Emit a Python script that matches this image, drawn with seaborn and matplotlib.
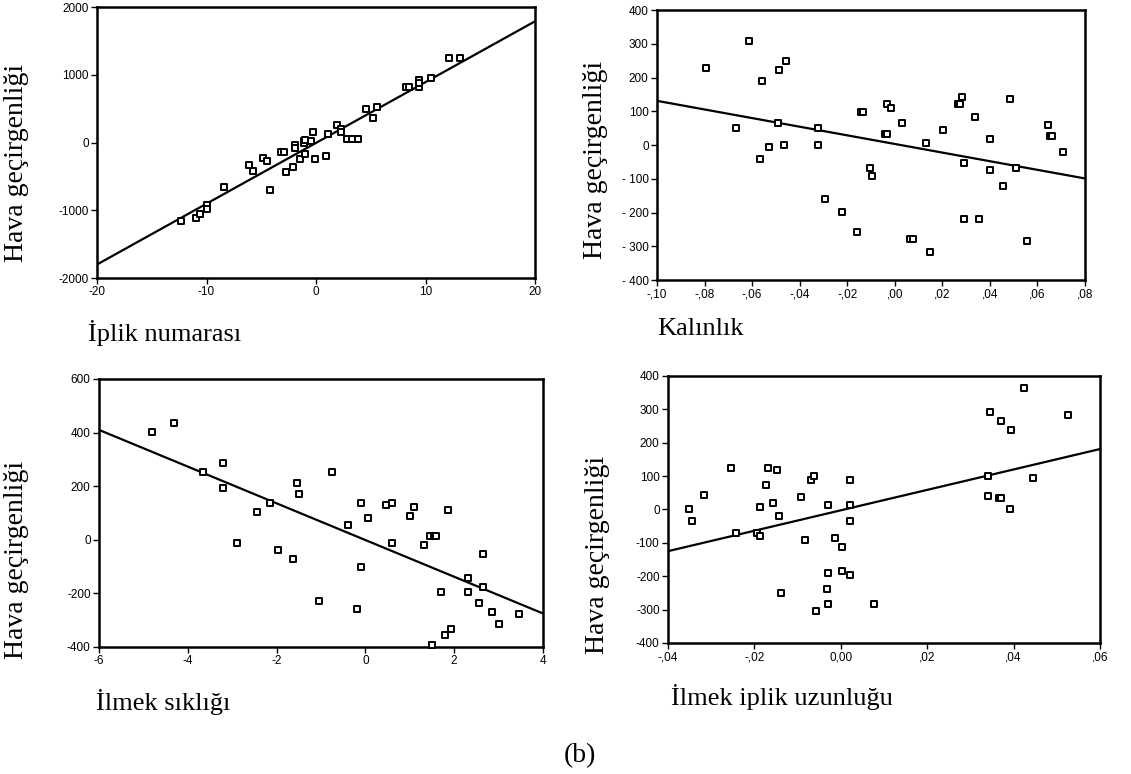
import numpy as np
import pandas as pd
import matplotlib
matplotlib.use("Agg")
import matplotlib.pyplot as plt
import seaborn as sns

# --- datos ---
# panel 1: Iplik numarasi
iplik_x = [-12.3, -11.0, -10.6, -10.0, -10.0, -8.4, -6.1, -5.8, -4.8, -4.5, -4.2, -3.2, -2.9,
           -2.7, -2.1, -1.9, -1.9, -1.5, -1.1, -1.1, -1.0, -1.05, -0.5, -0.3, -0.1, 0.9, 1.1,
           1.9, 2.3, 2.3, 2.8, 3.3, 3.8, 4.6, 5.2, 5.6, 8.2, 8.5, 9.4, 9.4, 9.4, 10.5, 12.1, 13.1]
iplik_y = [-1154, -1120, -1050, -917, -986, -661, -335, -424, -232, -266, -695, -138, -138,
           -429, -365, -35, -74, -237, 25, -10, 30, -168, 25, 158, -237, -202, 123,
           256, 197, 158, 59, 59, 59, 488, 355, 523, 814, 814, 917, 814, 878, 947, 1243, 1243]
iplik_fit_x = [-20, 20]
iplik_fit_y = [-1800, 1790]

# panel 2: Kalinlik
kalin_x = [-0.0793, -0.0667, -0.0611, -0.0566, -0.0558, -0.0530, -0.0493, -0.0485, -0.0466,
           -0.0457, -0.0322, -0.0322, -0.0294, -0.0221, -0.0160, -0.0141, -0.0132, -0.0105,
           -0.0095, -0.0042, -0.0032, -0.0032, -0.0014, 0.0031, 0.0066, 0.0076, 0.0130,
           0.0148, 0.0203, 0.0266, 0.0275, 0.0284, 0.0293, 0.0293, 0.0338, 0.0356, 0.0401,
           0.0401, 0.0455, 0.0483, 0.0508, 0.0555, 0.0644, 0.0653, 0.0663, 0.0709]
kalin_y = [229, 51, 308, -40, 190, -7, 64, 222, -1,
           249, 51, -1, -159, -199, -258, 98, 98, -67,
           -93, 32, 32, 123, 111, 64, -277, -277, 6,
           -316, 45, 123, 123, 143, -54, -218, 84, -218, 19,
           -73, -120, 137, -67, -283, 58, 26, 26, -21]
kalin_fit_x = [-0.10, 0.08]
kalin_fit_y = [131, -99]

# panel 3: Ilmek sikligi
siklik_x = [-4.80, -4.30, -3.65, -3.21, -3.21, -2.90, -2.45, -2.15, -1.97, -1.64, -1.55, -1.49,
            -1.04, -0.75, -0.40, -0.20, -0.10, -0.10, 0.06, 0.46, 0.60, 0.60, 1.00, 1.10,
            1.31, 1.45, 1.55, 1.60, 1.71, 1.85, 2.30, 2.30, 2.56, 2.66, 2.66, 2.85, 3.01,
            3.46, 1.50, 1.80, 1.93]
siklik_y = [401, 434, 253, 285, 195, -11, 103, 138, -40, -70, 212, 171,
            -230, 253, 55, -259, 138, -102, 80, 129, 138, -11, 87, 121,
            -20, 14, 14, 14, -193, 112, -144, -193, -235, -52, -177, -268, -316,
            -276, -392, -355, -332]
siklik_fit_x = [-6, 4]
siklik_fit_y = [410, -275]

# panel 4: Ilmek iplik uzunlugu
uzun_x = [-0.0352, -0.0344, -0.0317, -0.0253, -0.0242, -0.0193, -0.0188, -0.0188, -0.0173,
          -0.0168, -0.0158, -0.0148, -0.0143, -0.0138, -0.0093, -0.0083, -0.0069, -0.0063,
          -0.0058, -0.0033, -0.0029, -0.0029, -0.0029, -0.0013, 0.0002, 0.0002, 0.0022,
          0.0022, 0.0022, 0.0022, 0.0076, 0.0341, 0.0341, 0.0345, 0.0367, 0.0371, 0.0371,
          0.0391, 0.0395, 0.0425, 0.0445, 0.0525]
uzun_y = [0, -36, 43, 123, -72, -72, 7, -79, 73,
          123, 20, 117, -19, -251, 37, -92, 87, 100,
          -304, -238, 13, -189, -284, -86, -112, -185, 87,
          13, -36, -195, -284, 100, 40, 291, 34, 34, 265,
          0, 238, 364, 93, 282]
uzun_fit_x = [-0.04, 0.06]
uzun_fit_y = [-125, 181]

# etiquetas de los ejes
x_etiquetas = ["İplik numarası", "Kalınlık", "İlmek sıklığı", "İlmek iplik uzunluğu"]
y_etiqueta = "Hava geçirgenliği"

# ticks de cada panel
p1_xt = [-20, -10, 0, 10, 20]
p1_xl = ["-20", "-10", "0", "10", "20"]
p1_yt = [-2000, -1000, 0, 1000, 2000]
p1_yl = ["-2000", "-1000", "0", "1000", "2000"]

p2_xt = [-0.10, -0.08, -0.06, -0.04, -0.02, 0.0, 0.02, 0.04, 0.06, 0.08]
p2_xl = ["-,10", "-,08", "-,06", "-,04", "-,02", ",00", ",02", ",04", ",06", ",08"]
p2_yt = [-400, -300, -200, -100, 0, 100, 200, 300, 400]
p2_yl = ["- 400", "- 300", "- 200", "- 100", "0", "100", "200", "300", "400"]

p3_xt = [-6, -4, -2, 0, 2, 4]
p3_xl = ["-6", "-4", "-2", "0", "2", "4"]
p3_yt = [-400, -200, 0, 200, 400, 600]
p3_yl = ["-400", "-200", "0", "200", "400", "600"]

p4_xt = [-0.04, -0.02, 0.0, 0.02, 0.04, 0.06]
p4_xl = ["-,04", "-,02", "0,00", ",02", ",04", ",06"]
p4_yt = [-400, -300, -200, -100, 0, 100, 200, 300, 400]
p4_yl = ["-400", "-300", "-200", "-100", "0", "100", "200", "300", "400"]

sns.set_theme(style="ticks")
plt.rcParams['font.family'] = ['Liberation Sans', 'DejaVu Sans']
plt.rcParams['text.color'] = 'black'
plt.rcParams['xtick.color'] = 'black'
plt.rcParams['ytick.color'] = 'black'

fig = plt.figure(figsize=(11.31, 7.74), dpi=100)

# posiciones de los paneles [left, bottom, width, height]
posiciones = [
    [0.0858, 0.6408, 0.3873, 0.3501],
    [0.5809, 0.6382, 0.3784, 0.3488],
    [0.0875, 0.1641, 0.3926, 0.3463],
    [0.5906, 0.1693, 0.3820, 0.3450],
]

paneles = [
    (iplik_x, iplik_y, iplik_fit_x, iplik_fit_y, p1_xt, p1_xl, p1_yt, p1_yl),
    (kalin_x, kalin_y, kalin_fit_x, kalin_fit_y, p2_xt, p2_xl, p2_yt, p2_yl),
    (siklik_x, siklik_y, siklik_fit_x, siklik_fit_y, p3_xt, p3_xl, p3_yt, p3_yl),
    (uzun_x, uzun_y, uzun_fit_x, uzun_fit_y, p4_xt, p4_xl, p4_yt, p4_yl),
]

for pos, (x, y, fx, fy, xt, xl, yt, yl) in zip(posiciones, paneles):
    ax = fig.add_axes(pos)
    df = pd.DataFrame({"x": x, "y": y})
    sns.scatterplot(data=df, x="x", y="y", ax=ax, marker="s", s=13,
                    facecolor="white", edgecolor="black", linewidth=1.4, zorder=3,
                    clip_on=False)
    sns.lineplot(x=fx, y=fy, ax=ax, color="black", linewidth=1.6, zorder=2)
    ax.set_xlim(xt[0], xt[-1])
    ax.set_ylim(yt[0], yt[-1])
    ax.set_xticks(xt)
    ax.set_xticklabels(xl, fontsize=8.5)
    ax.set_yticks(yt)
    ax.set_yticklabels(yl, fontsize=8.5)
    ax.set_xlabel("")
    ax.set_ylabel("")
    ax.tick_params(direction="out", length=4, width=1, color="black", pad=2)
    for sp in ax.spines.values():
        sp.set_visible(True)
        sp.set_linewidth(1.8)
        sp.set_color("black")

serif = ['Liberation Serif', 'DejaVu Serif']

# etiquetas del eje y (verticales)
for (xp, yp) in [(17, 163), (596, 160), (17, 560), (598, 555)]:
    fig.text(xp / 1131, 1 - yp / 774, y_etiqueta, rotation=90, ha="center", va="center",
             fontsize=20, family=serif)

# etiquetas del eje x (linea base)
for (xp, yp), txt in zip([(88, 341), (657, 335), (96, 710), (671, 705)], x_etiquetas):
    fig.text(xp / 1131, 1 - yp / 774, txt, ha="left", va="baseline", fontsize=19,
             family=serif)

fig.text(580 / 1131, 1 - 756 / 774, "(b)", ha="center", va="center", fontsize=20, family=serif)

fig.savefig("out.png", dpi=100)
